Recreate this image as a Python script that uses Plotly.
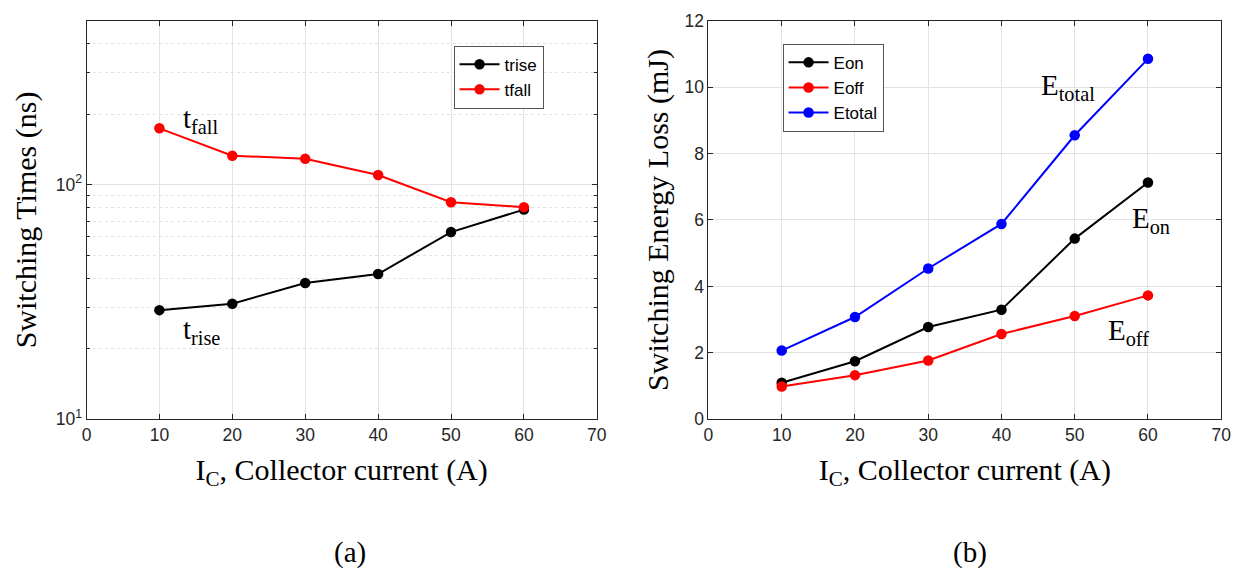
import plotly.graph_objects as go

# ---- data ----
current = [10, 20, 30, 40, 50, 60]
t_rise = [29.2, 31.1, 38.1, 41.6, 62.8, 78.3]
t_fall = [173.8, 132.9, 128.8, 109.9, 84.1, 80.2]
e_on = [1.10, 1.75, 2.78, 3.30, 5.44, 7.13]
e_off = [0.99, 1.33, 1.77, 2.57, 3.11, 3.73]
e_total = [2.07, 3.08, 4.54, 5.88, 8.55, 10.85]

log_major = [10, 100]
log_major_text = ["10<sup>1</sup>", "10<sup>2</sup>"]
log_minor = [20, 30, 40, 50, 60, 70, 80, 90, 200, 300, 400]

SERIF = "Times New Roman, Liberation Serif, serif"
SANS = "Arial, Liberation Sans, sans-serif"
TICK_COLOR = "#262626"
GRID = "#e3e3e3"

fig = go.Figure()

mk = dict(size=10.5)
fig.add_trace(go.Scatter(x=current, y=t_rise, mode="lines+markers", name="trise",
                         line=dict(color="black", width=2), marker=dict(color="black", **mk),
                         xaxis="x", yaxis="y", legend="legend"))
fig.add_trace(go.Scatter(x=current, y=t_fall, mode="lines+markers", name="tfall",
                         line=dict(color="red", width=2), marker=dict(color="red", **mk),
                         xaxis="x", yaxis="y", legend="legend"))
fig.add_trace(go.Scatter(x=current, y=e_on, mode="lines+markers", name="Eon",
                         line=dict(color="black", width=2), marker=dict(color="black", **mk),
                         xaxis="x2", yaxis="y2", legend="legend2"))
fig.add_trace(go.Scatter(x=current, y=e_off, mode="lines+markers", name="Eoff",
                         line=dict(color="red", width=2), marker=dict(color="red", **mk),
                         xaxis="x2", yaxis="y2", legend="legend2"))
fig.add_trace(go.Scatter(x=current, y=e_total, mode="lines+markers", name="Etotal",
                         line=dict(color="blue", width=2), marker=dict(color="blue", **mk),
                         xaxis="x2", yaxis="y2", legend="legend2"))

W, H = 1250, 579
ydom = [1 - 424 / H, 1 - 11 / H]

common_axis = dict(showline=True, linecolor=TICK_COLOR, linewidth=1, mirror="ticks",
                   ticks="inside", ticklen=5, tickcolor=TICK_COLOR,
                   showgrid=True, gridcolor=GRID, gridwidth=1, zeroline=False,
                   tickfont=dict(family=SANS, size=17.5, color=TICK_COLOR))

xtitle = dict(text="I<sub>C</sub>, Collector current (A)",
              font=dict(family=SERIF, size=30, color="black"), standoff=14)

fig.update_layout(
    width=W, height=H,
    margin=dict(l=0, r=0, t=0, b=0),
    paper_bgcolor="white", plot_bgcolor="white",
    xaxis=dict(domain=[82.5 / W, 599 / W], range=[0, 70], dtick=10, anchor="y",
               title=xtitle, **common_axis),
    yaxis=dict(domain=ydom, type="log", range=[1, 2.69897], anchor="x",
               tickvals=log_major, ticktext=log_major_text,
               title=dict(text="Switching Times (ns)",
                          font=dict(family=SERIF, size=30, color="black"), standoff=10),
               minor=dict(tickvals=log_minor, ticks="inside", ticklen=3, tickcolor=TICK_COLOR,
                          showgrid=True, gridcolor=GRID, griddash="dot"),
               **common_axis),
    xaxis2=dict(domain=[712 / W, 1231 / W], range=[0, 70], dtick=10, anchor="y2",
                title=xtitle, **common_axis),
    yaxis2=dict(domain=ydom, range=[0, 12], dtick=2, anchor="x2",
                title=dict(text="Switching Energy Loss (mJ)",
                           font=dict(family=SERIF, size=30, color="black"), standoff=6),
                **common_axis),
    legend=dict(x=454 / W, y=1 - 37 / H, xanchor="left", yanchor="top",
                bgcolor="white", bordercolor="#555555", borderwidth=1,
                font=dict(family=SANS, size=17, color="black"),
                tracegroupgap=0, itemwidth=40),
    legend2=dict(x=787 / W, y=1 - 35 / H, xanchor="left", yanchor="top",
                 bgcolor="white", bordercolor="#555555", borderwidth=1,
                 font=dict(family=SANS, size=17, color="black"),
                 tracegroupgap=0, itemwidth=40),
    showlegend=True,
)

ann_font = dict(family=SERIF, size=29, color="black")
annotations = [
    dict(x=15.7, y=2.275, xref="x", yref="y", text="t<sub>fall</sub>"),
    dict(x=15.8, y=1.378, xref="x", yref="y", text="t<sub>rise</sub>"),
    dict(x=49.1, y=10.0, xref="x2", yref="y2", text="E<sub>total</sub>"),
    dict(x=60.4, y=6.0, xref="x2", yref="y2", text="E<sub>on</sub>"),
    dict(x=57.4, y=2.64, xref="x2", yref="y2", text="E<sub>off</sub>"),
    dict(x=349 / W, y=1 - 562 / H, xref="paper", yref="paper", text="(a)",
         yanchor="middle", xanchor="center"),
    dict(x=977 / W, y=1 - 562 / H, xref="paper", yref="paper", text="(b)",
         yanchor="middle", xanchor="center"),
]
for a in annotations:
    fig.add_annotation(showarrow=False, font=ann_font, **a)

fig.write_html("out.html")
